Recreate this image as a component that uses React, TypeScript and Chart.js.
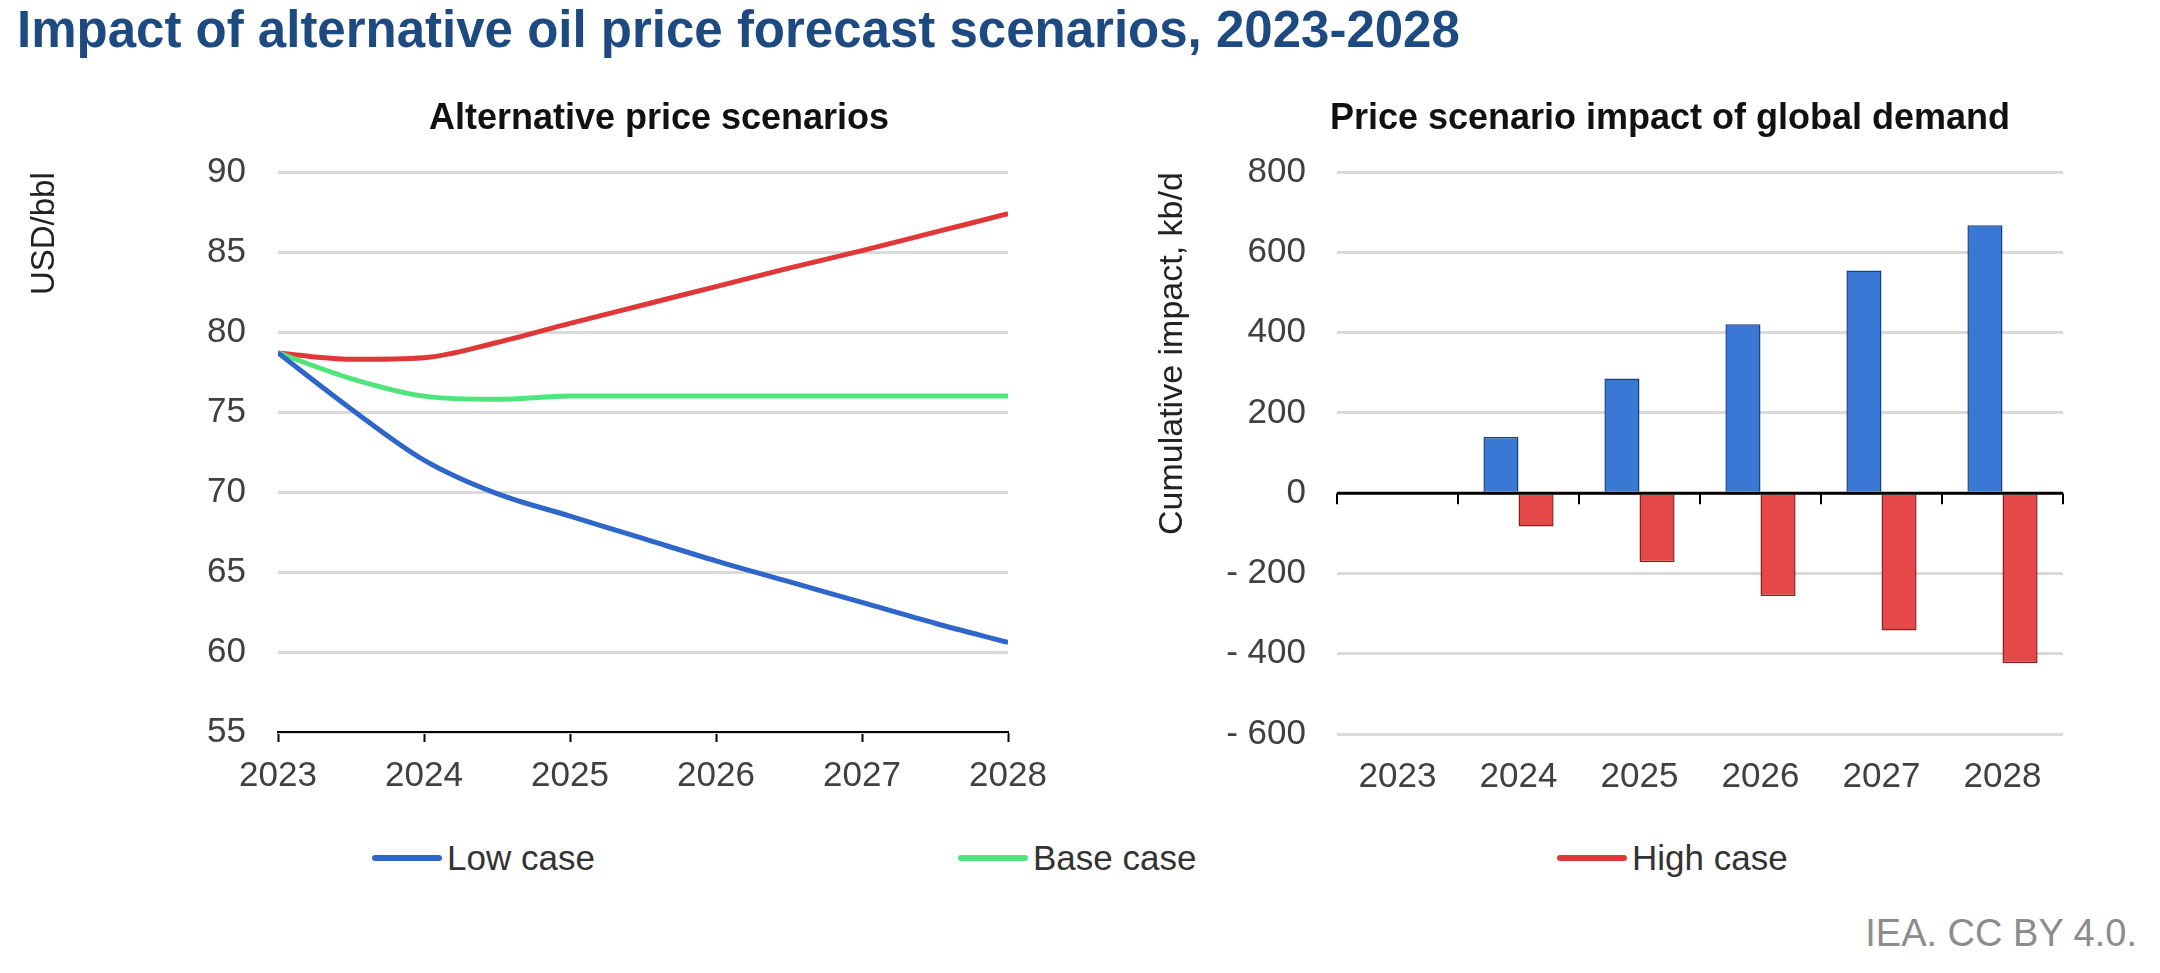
import React, { useEffect, useRef } from 'react';
import { Chart, registerables } from 'chart.js';

Chart.register(...registerables);

const FONT = "'Liberation Sans', Arial, Helvetica, sans-serif";

// ---- Left chart: alternative price scenarios (USD/bbl) ----
const priceYears = [2023, 2023.5, 2024, 2024.5, 2025, 2025.5, 2026, 2026.5, 2027, 2027.5, 2028];
const lowCasePrice = [78.7, 75.2, 72.0, 69.9, 68.5, 67.1, 65.7, 64.4, 63.1, 61.8, 60.6];
const baseCasePrice = [78.7, 77.1, 76.0, 75.8, 76.0, 76.0, 76.0, 76.0, 76.0, 76.0, 76.0];
const highCasePrice = [78.7, 78.3, 78.4, 79.35, 80.55, 81.7, 82.85, 84.0, 85.1, 86.25, 87.4];

// ---- Right chart: cumulative demand impact (kb/d) ----
const demandYears = ['2023', '2024', '2025', '2026', '2027', '2028'];
const lowCaseImpact = [0, 140, 286, 421, 555, 668];
const highCaseImpact = [0, -83, -172, -256, -342, -424];

const legendItems = [
  { label: 'Low case', color: '#2f66c9', left: 372 },
  { label: 'Base case', color: '#4fe47c', left: 958 },
  { label: 'High case', color: '#e03838', left: 1557 },
];

const BLUE_LINE = '#2f66c9';
const GREEN_LINE = '#4fe47c';
const RED_LINE = '#e03838';
const GRID = '#dadada';
const TICK_TEXT = '#404040';

const zeroLinePlugin = {
  id: 'zeroLine',
  afterDatasetsDraw(chart: any) {
    const { ctx, chartArea, scales } = chart;
    const y0 = scales.y.getPixelForValue(0);
    ctx.save();
    ctx.strokeStyle = '#000';
    ctx.lineWidth = 3;
    ctx.beginPath();
    ctx.moveTo(chartArea.left, y0);
    ctx.lineTo(chartArea.right, y0);
    ctx.stroke();
    ctx.lineWidth = 2;
    const n = scales.x.getLabels().length;
    for (let i = 0; i <= n; i++) {
      const x = scales.x.getPixelForValue(i - 0.5);
      ctx.beginPath();
      ctx.moveTo(x, y0);
      ctx.lineTo(x, y0 + 11);
      ctx.stroke();
    }
    ctx.restore();
  },
};

// An empty right-hand spacer axis, used only to shift the centre of the chart title.
const spacerAxis = (w: number) => ({
  type: 'linear',
  position: 'right',
  display: true,
  ticks: { display: false },
  grid: { display: false },
  border: { display: false },
  afterFit: (s: any) => { s.width = w; },
});

export default function App() {
  const leftRef = useRef<HTMLCanvasElement | null>(null);
  const rightRef = useRef<HTMLCanvasElement | null>(null);

  useEffect(() => {
    Chart.defaults.font.family = FONT;
    const toPts = (vals: number[]) => priceYears.map((x, i) => ({ x, y: vals[i] }));

    const left = new Chart(leftRef.current as HTMLCanvasElement, {
      type: 'line',
      data: {
        datasets: [
          { label: 'Low case', data: toPts(lowCasePrice), yAxisID: 'y', borderColor: BLUE_LINE, borderWidth: 5, pointRadius: 0, cubicInterpolationMode: 'monotone' },
          { label: 'Base case', data: toPts(baseCasePrice), yAxisID: 'y', borderColor: GREEN_LINE, borderWidth: 5, pointRadius: 0, cubicInterpolationMode: 'monotone' },
          { label: 'High case', data: toPts(highCasePrice), yAxisID: 'y', borderColor: RED_LINE, borderWidth: 5, pointRadius: 0, cubicInterpolationMode: 'monotone' },
        ],
      },
      options: {
        animation: false,
        responsive: false,
        devicePixelRatio: 1,
        layout: { padding: { left: 0, right: 0, top: 0, bottom: 8 } },
        plugins: {
          legend: { display: false },
          tooltip: { enabled: false },
          title: {
            display: true,
            text: 'Alternative price scenarios',
            fullSize: true,
            color: '#111',
            font: { size: 36, weight: 'bold', family: FONT },
            padding: { top: 17, bottom: 32 },
          },
        },
        scales: {
          x: {
            type: 'linear',
            min: 2023,
            max: 2028,
            afterFit: (s: any) => { s.height = 80; },
            ticks: { stepSize: 1, callback: (v: any) => String(v), color: TICK_TEXT, font: { size: 35 }, padding: 13, maxRotation: 0 },
            grid: { drawOnChartArea: false, drawTicks: true, tickLength: 10, tickColor: '#000', tickWidth: 2 },
            border: { display: true, color: '#000', width: 2 },
          },
          y: {
            min: 55,
            max: 90,
            afterFit: (s: any) => { s.width = 278; },
            ticks: { stepSize: 5, color: TICK_TEXT, font: { size: 35 }, padding: 32 },
            grid: { color: GRID, lineWidth: 3, drawTicks: false },
            border: { display: false },
            title: { display: true, text: 'USD/bbl', align: 'end', color: '#222', font: { size: 33 }, padding: { top: 25, bottom: 0 } },
          },
          ySpacer: spacerAxis(310),
        },
      },
    } as any);

    const right = new Chart(rightRef.current as HTMLCanvasElement, {
      type: 'bar',
      data: {
        labels: demandYears,
        datasets: [
          { label: 'Low case', data: lowCaseImpact, yAxisID: 'y', backgroundColor: '#3a78d6', borderColor: '#1d3f80', borderWidth: 1.5, categoryPercentage: 0.58, barPercentage: 1 },
          { label: 'High case', data: highCaseImpact, yAxisID: 'y', backgroundColor: '#e44848', borderColor: '#8a1f1f', borderWidth: 1.5, categoryPercentage: 0.58, barPercentage: 1 },
        ],
      },
      options: {
        animation: false,
        responsive: false,
        devicePixelRatio: 1,
        layout: { padding: { left: 0, right: 0, top: 0, bottom: 8 } },
        plugins: {
          legend: { display: false },
          tooltip: { enabled: false },
          title: {
            display: true,
            text: 'Price scenario impact of global demand',
            fullSize: true,
            color: '#111',
            font: { size: 36, weight: 'bold', family: FONT },
            padding: { top: 17, bottom: 32 },
          },
        },
        scales: {
          x: {
            afterFit: (s: any) => { s.height = 78; },
            ticks: { color: TICK_TEXT, font: { size: 35 }, padding: 14, maxRotation: 0 },
            grid: { display: false },
            border: { display: false },
          },
          y: {
            min: -600,
            max: 800,
            afterFit: (s: any) => { s.width = 217; },
            ticks: {
              stepSize: 200,
              color: TICK_TEXT,
              font: { size: 35 },
              padding: 31,
              callback: (v: any) => (v < 0 ? '- ' + Math.abs(v) : String(v)),
            },
            grid: { color: GRID, lineWidth: 3, drawTicks: false },
            border: { display: false },
            title: { display: true, text: 'Cumulative impact, kb/d', align: 'end', color: '#222', font: { size: 34 }, padding: { top: 32, bottom: 0 } },
          },
          ySpacer: spacerAxis(157),
        },
      },
      plugins: [zeroLinePlugin],
    } as any);

    return () => {
      left.destroy();
      right.destroy();
    };
  }, []);

  return (
    <div style={{ position: 'absolute', left: 0, top: 0, width: 2160, height: 973, background: '#fff', fontFamily: FONT, overflow: 'hidden' }}>
      <div style={{ position: 'absolute', left: 17, top: 1, fontSize: 51, lineHeight: '58px', fontWeight: 'bold', color: '#1d4a80', whiteSpace: 'nowrap' }}>
        Impact of alternative oil price forecast scenarios, 2023-2028
      </div>
      <canvas ref={leftRef} width={1318} height={740} style={{ position: 'absolute', left: 0, top: 80, width: 1318, height: 740 }} />
      <canvas ref={rightRef} width={1100} height={740} style={{ position: 'absolute', left: 1120, top: 80, width: 1100, height: 740 }} />
      {legendItems.map((it) => (
        <div key={it.label} style={{ position: 'absolute', left: it.left, top: 838, height: 40, display: 'flex', alignItems: 'center', fontSize: 35, lineHeight: '40px', color: '#333', whiteSpace: 'nowrap' }}>
          <span style={{ display: 'inline-block', width: 70, height: 6, borderRadius: 3, background: it.color, marginRight: 5 }} />
          <span>{it.label}</span>
        </div>
      ))}
      <div style={{ position: 'absolute', right: 23, top: 911, fontSize: 38, lineHeight: '44px', color: '#8c8c8c', whiteSpace: 'nowrap' }}>
        IEA. CC BY 4.0.
      </div>
    </div>
  );
}
